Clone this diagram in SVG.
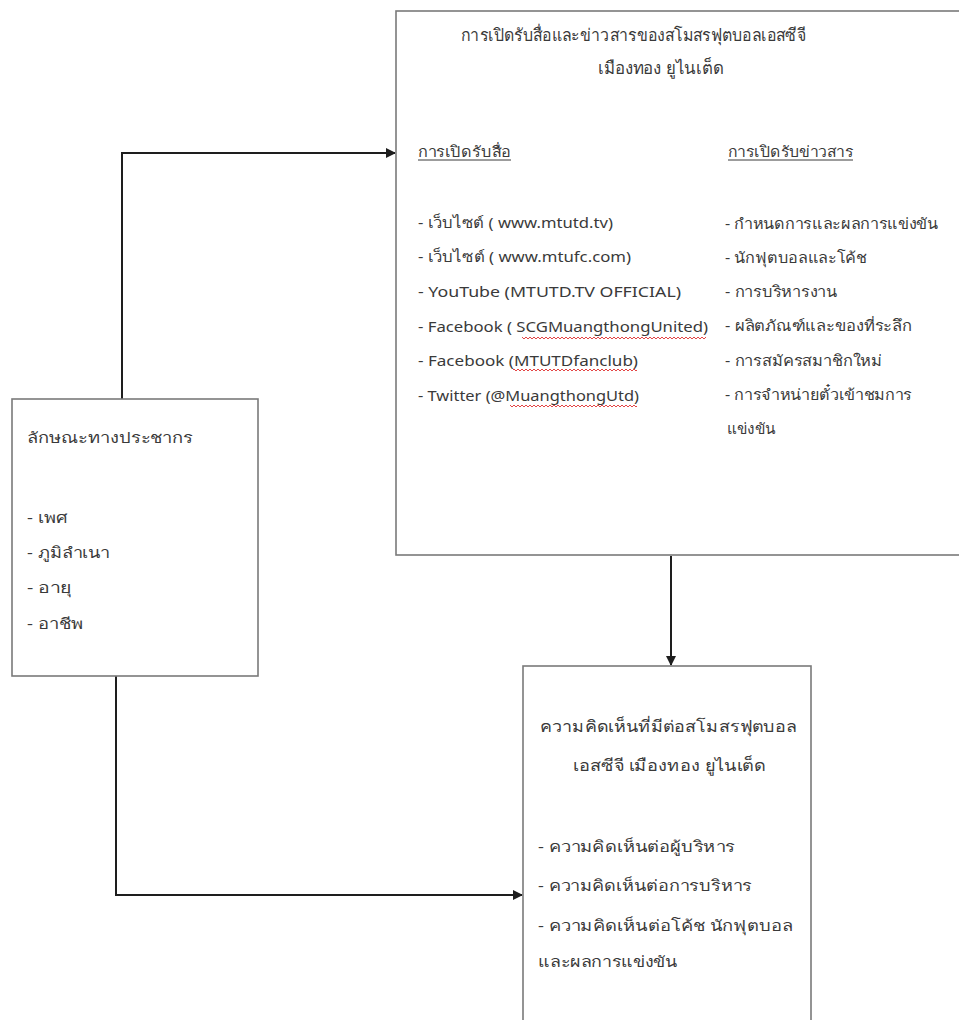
<svg xmlns="http://www.w3.org/2000/svg" width="959" height="1020" viewBox="0 0 959 1020">
<style>
.box{fill:#fff;stroke:#7a7a7a;stroke-width:1.6}
.t{font-family:"Noto Sans","Liberation Sans",sans-serif;font-size:15px;fill:#3a3a3a}
.h{font-size:16px}
.ht{font-size:17px}
.con{fill:none;stroke:#1e1e1e;stroke-width:2}
.ul{stroke:#3a3a3a;stroke-width:1}
.sq{fill:url(#squig)}
</style>
<defs>
<marker id="arr" markerWidth="10" markerHeight="10" refX="9" refY="5" orient="auto" markerUnits="userSpaceOnUse">
<path d="M0,0 L10,5 L0,10 Z" fill="#1e1e1e"/>
</marker>
<pattern id="squig" width="4" height="4" patternUnits="userSpaceOnUse">
<path d="M0,3 L2,1 L4,3" fill="none" stroke="#e03030" stroke-width="0.9"/>
</pattern>
</defs>
<rect width="959" height="1020" fill="#fff"/>

<g id="connectors">
<path class="con" d="M122,399 V153 H395" marker-end="url(#arr)"/>
<path class="con" d="M116,676 V895 H522" marker-end="url(#arr)"/>
<path class="con" d="M671,556 V665" marker-end="url(#arr)"/>
</g>

<g id="node-media">
<rect class="box" x="396" y="11" width="570" height="544"/>
<text class="t ht" x="461" y="41" textLength="345" lengthAdjust="spacingAndGlyphs">การเปิดรับสื่อและข่าวสารของสโมสรฟุตบอลเอสซีจี</text>
<text class="t ht" x="598" y="74" textLength="126" lengthAdjust="spacingAndGlyphs">เมืองทอง ยูไนเต็ด</text>
<text class="t" x="418" y="157" textLength="93" lengthAdjust="spacingAndGlyphs">การเปิดรับสื่อ</text>
<line class="ul" x1="418" y1="160" x2="511" y2="160"/>
<text class="t" x="728" y="157" textLength="125" lengthAdjust="spacingAndGlyphs">การเปิดรับข่าวสาร</text>
<line class="ul" x1="728" y1="160" x2="853" y2="160"/>
<text class="t" x="418" y="228" textLength="195" lengthAdjust="spacingAndGlyphs">- เว็บไซต์ ( www.mtutd.tv)</text>
<text class="t" x="418" y="262" textLength="213" lengthAdjust="spacingAndGlyphs">- เว็บไซต์ ( www.mtufc.com)</text>
<text class="t" x="418" y="297" textLength="263" lengthAdjust="spacingAndGlyphs">-  YouTube  (MTUTD.TV OFFICIAL)</text>
<text class="t" x="418" y="332" textLength="290" lengthAdjust="spacingAndGlyphs">- Facebook ( SCGMuangthongUnited)</text>
<rect class="sq" x="522" y="335" width="184" height="4"/>
<text class="t" x="418" y="366" textLength="220" lengthAdjust="spacingAndGlyphs">- Facebook (MTUTDfanclub)</text>
<rect class="sq" x="513" y="369" width="124" height="4"/>
<text class="t" x="418" y="401" textLength="221" lengthAdjust="spacingAndGlyphs">- Twitter (@MuangthongUtd)</text>
<rect class="sq" x="510" y="404" width="127" height="4"/>
<text class="t" x="725" y="229" textLength="213" lengthAdjust="spacingAndGlyphs">- กำหนดการและผลการแข่งขัน</text>
<text class="t" x="725" y="263" textLength="142" lengthAdjust="spacingAndGlyphs">- นักฟุตบอลและโค้ช</text>
<text class="t" x="725" y="297" textLength="112" lengthAdjust="spacingAndGlyphs">- การบริหารงาน</text>
<text class="t" x="725" y="331" textLength="187" lengthAdjust="spacingAndGlyphs">- ผลิตภัณฑ์และของที่ระลึก</text>
<text class="t" x="725" y="366" textLength="157" lengthAdjust="spacingAndGlyphs">- การสมัครสมาชิกใหม่</text>
<text class="t" x="725" y="400" textLength="187" lengthAdjust="spacingAndGlyphs">- การจำหน่ายตั๋วเข้าชมการ</text>
<text class="t" x="727" y="434" textLength="48" lengthAdjust="spacingAndGlyphs">แข่งขัน</text>
</g>

<g id="node-demographics">
<rect class="box" x="12" y="399" width="246" height="277"/>
<text class="t" x="27" y="443" textLength="166" lengthAdjust="spacingAndGlyphs">ลักษณะทางประชากร</text>
<text class="t" x="27" y="523" textLength="41" lengthAdjust="spacingAndGlyphs">- เพศ</text>
<text class="t" x="27" y="558" textLength="83" lengthAdjust="spacingAndGlyphs">- ภูมิลำเนา</text>
<text class="t" x="27" y="593" textLength="45" lengthAdjust="spacingAndGlyphs">- อายุ</text>
<text class="t" x="27" y="629" textLength="56" lengthAdjust="spacingAndGlyphs">- อาชีพ</text>
</g>

<g id="node-opinion">
<rect class="box" x="523" y="666" width="288" height="370"/>
<text class="t h" x="540" y="732" textLength="257" lengthAdjust="spacingAndGlyphs">ความคิดเห็นที่มีต่อสโมสรฟุตบอล</text>
<text class="t h" x="573" y="771" textLength="192" lengthAdjust="spacingAndGlyphs">เอสซีจี เมืองทอง ยูไนเต็ด</text>
<text class="t" x="538" y="852" textLength="197" lengthAdjust="spacingAndGlyphs">- ความคิดเห็นต่อผู้บริหาร</text>
<text class="t" x="538" y="891" textLength="214" lengthAdjust="spacingAndGlyphs">- ความคิดเห็นต่อการบริหาร</text>
<text class="t" x="538" y="931" textLength="255" lengthAdjust="spacingAndGlyphs">- ความคิดเห็นต่อโค้ช นักฟุตบอล</text>
<text class="t" x="538" y="967" textLength="139" lengthAdjust="spacingAndGlyphs">และผลการแข่งขัน</text>
</g>
</svg>
